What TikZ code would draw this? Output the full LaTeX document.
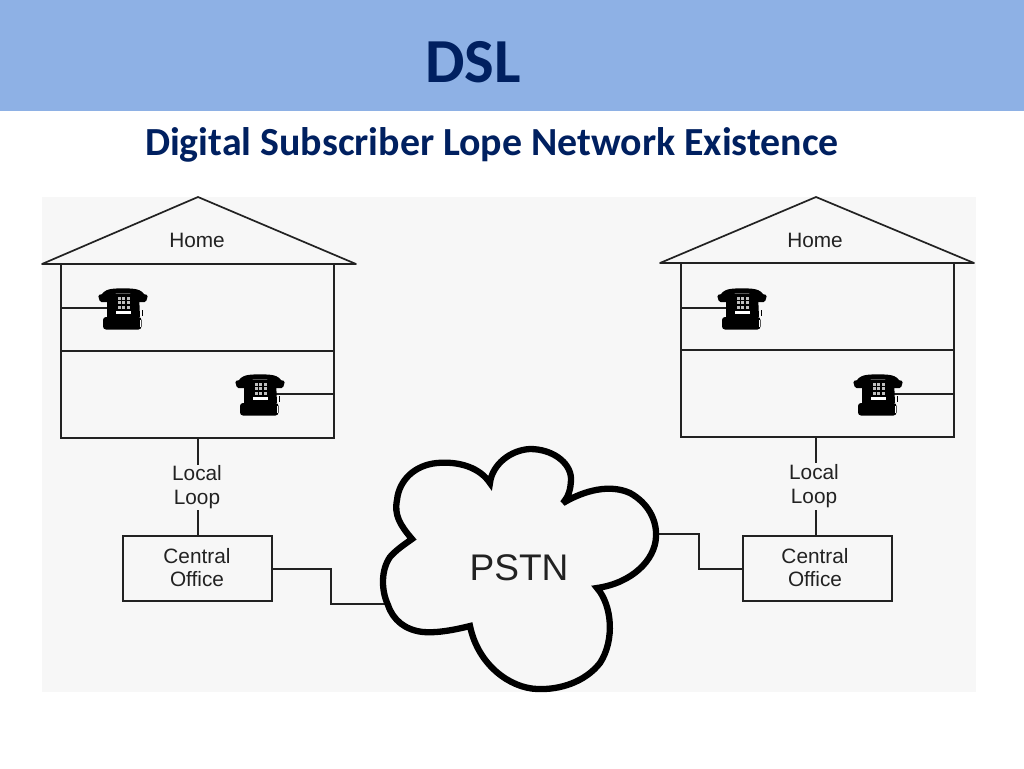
\documentclass[tikz,border=0pt]{standalone}
\usepackage{fontspec}
\setmainfont{Liberation Sans}
\newfontfamily\titlefont{Carlito}
\usetikzlibrary{calc}
\definecolor{headband}{HTML}{8EB1E5}
\definecolor{navy}{HTML}{002060}
\definecolor{panel}{HTML}{F7F7F7}
\definecolor{ink}{HTML}{222222}
\def\px{0.75pt}
\tikzset{
  x=0.75pt,y=-0.75pt,
  wire/.style={draw=ink,line width=1.7*\px},
  bodybox/.style={wire,minimum width=273*\px,minimum height=174*\px,inner sep=0pt,outer sep=0pt,fill=panel},
  office/.style={wire,minimum width=149*\px,minimum height=65*\px,inner sep=0pt,outer sep=0pt,fill=panel},
  lbl/.style={inner sep=0pt,outer sep=0pt,align=center,font=\fontsize{15.6pt}{17.8pt}\selectfont,text=ink},
  pics/phone/.style={code={
    \fill[black] (-16,-14) -- (16,-14) -- (17,9) -- (-16,9) -- cycle;
    \fill[black,rounded corners=3*\px] (-20,9) rectangle (18.5,21.5);
    \draw[black,line width=5.2*\px,line cap=round] (-20,-10) .. controls (-18,-17) and (-10,-17) .. (0,-17) .. controls (10,-17) and (18,-17) .. (20,-10);
    \fill[black,rounded corners=1.5*\px] (-25,-13) -- (-15,-15) -- (-13,-6) -- (-23,-6) -- cycle;
    \fill[black,rounded corners=1.5*\px] (25,-13) -- (15,-15) -- (13,-6) -- (23,-6) -- cycle;
    \foreach \a in {-5.5,-1,3.5}{\foreach \b in {-11,-6.7,-2.4}{\fill[white!75!black] (\a,\b) rectangle ++(3,3);}}
    \fill[white] (-7,3) rectangle (8,6);
    \draw[white,line width=1*\px] (17,12) -- (17,19);
    \draw[black,line width=1*\px] (19.5,2) -- (19.5,8);
  }}
}
\begin{document}
\begin{tikzpicture}
\useasboundingbox (0,0) rectangle (1024,768);
\fill[white] (0,0) rectangle (1024,768);
\fill[headband] (0,0) rectangle (1024,111);
\fill[panel] (42,197) rectangle (976,692);
\node[inner sep=0pt,text=navy,font=\titlefont\bfseries\fontsize{47pt}{52pt}\selectfont] (title) at (473,62) {DSL};
\node[inner sep=0pt,text=navy,font=\titlefont\bfseries\fontsize{29.9pt}{34pt}\selectfont] (subtitle) at (492,145) {Digital Subscriber Lope Network Existence};

% left house
\node[bodybox] (bodyL) at (197.5,351) {};
\draw[wire] (bodyL.west) -- (bodyL.east);
\draw[wire,line join=round] (42,264) -- (198,197) -- (356,264) -- cycle;
\node[lbl] (homeL) at (197,240) {Home};
\coordinate (ph1) at (123,308);
\coordinate (ph2) at (260,394);
\draw[wire] (bodyL.west |- ph1) -- (ph1);
\draw[wire] (bodyL.east |- ph2) -- (ph2);
\pic at (ph1) {phone};
\pic at (ph2) {phone};
\node[lbl] (loopL) at (197,487) {Local\\Loop};
\node[office] (officeL) at (197.5,568.5) {};
\node[lbl] (officetextL) at (197,567.5) {Central\\Office};
\coordinate (stemLa) at (198,438);
\coordinate (stemLb) at (198,465);
\coordinate (stemLc) at (198,510);
\coordinate (stemLd) at (198,536);
\draw[wire] (stemLa) -- (stemLb);
\draw[wire] (stemLc) -- (stemLd);

% right house
\node[bodybox] (bodyR) at (817.5,350) {};
\draw[wire] (bodyR.west) -- (bodyR.east);
\draw[wire,line join=round] (660,263) -- (816,197) -- (974,263) -- cycle;
\node[lbl] (homeR) at (815,240) {Home};
\coordinate (ph3) at (742,308);
\coordinate (ph4) at (878,394);
\draw[wire] (bodyR.west |- ph3) -- (ph3);
\draw[wire] (bodyR.east |- ph4) -- (ph4);
\pic at (ph3) {phone};
\pic at (ph4) {phone};
\node[lbl] (loopR) at (814,486) {Local\\Loop};
\node[office] (officeR) at (817.5,568.5) {};
\node[lbl] (officetextR) at (815,567.5) {Central\\Office};
\coordinate (stemRa) at (816,437);
\coordinate (stemRb) at (816,463);
\coordinate (stemRc) at (816,510);
\coordinate (stemRd) at (816,536);
\draw[wire] (stemRa) -- (stemRb);
\draw[wire] (stemRc) -- (stemRd);

% connectors to the cloud
\coordinate (cloudW) at (390,604);
\coordinate (cloudE) at (650,534);
\draw[wire] (officeL.east |- 0,569) -- (331,569) -- (331,604) -- (cloudW);
\draw[wire] (officeR.west |- 0,569) -- (699,569) -- (699,534) -- (cloudE);

% cloud
\draw[line width=6.3*\px,black,fill=panel,line join=miter,miter limit=3]
  (412,539)
  .. controls (400,525) and (394,515) .. (397,500)
  .. controls (399,480) and (415,465) .. (437,463)
  .. controls (460,461) and (480,468) .. (490,483)
  .. controls (492,465) and (510,450) .. (530,449)
  .. controls (552,449) and (570,462) .. (571,478)
  .. controls (571,490) and (568,497) .. (563,503)
  .. controls (585,490) and (610,484) .. (630,493)
  .. controls (648,503) and (657,520) .. (656,537)
  .. controls (655,560) and (632,583) .. (597,588)
  .. controls (612,605) and (615,640) .. (600,663)
  .. controls (585,682) and (560,690) .. (537,689)
  .. controls (510,688) and (478,665) .. (470,626)
  .. controls (450,631) and (435,633) .. (423,632)
  .. controls (405,630) and (393,620) .. (388,605)
  .. controls (381,590) and (381,570) .. (390,557)
  .. controls (396,550) and (405,544) .. (412,539)
  -- cycle;
\node[inner sep=0pt,text=ink,font=\fontsize{27.8pt}{32pt}\selectfont] (pstn) at (519,568) {PSTN};
\end{tikzpicture}
\end{document}
